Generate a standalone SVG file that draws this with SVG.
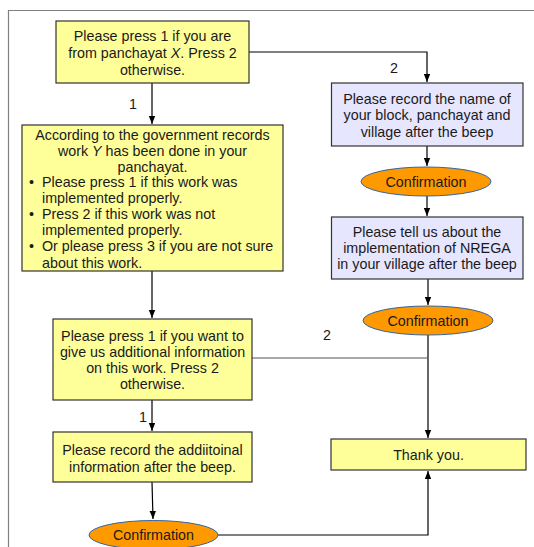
<svg xmlns="http://www.w3.org/2000/svg" width="534" height="547" viewBox="0 0 534 547">
<style>
text{font-family:"Liberation Sans",Arial,sans-serif;font-size:14.3px;fill:#1a1a1a}
.c{text-anchor:middle}
.y{fill:#ffff99;stroke:#333;stroke-width:1.2}
.l{fill:#e6e6ff;stroke:#333;stroke-width:1.2}
.e{fill:#ff9900;stroke:#3465a4;stroke-width:1}
.w{fill:none;stroke:#000;stroke-width:1.2}
</style>
<defs>
<marker id="a" viewBox="0 0 10 10" refX="10" refY="5" markerWidth="8" markerHeight="8" markerUnits="userSpaceOnUse" orient="auto">
<path d="M0,1 L10,5 L0,9 Z" fill="#000"/>
</marker>
</defs>
<rect width="534" height="547" fill="#fff"/>
<path d="M8.5,547 V10.5 H534" fill="none" stroke="#808080" stroke-width="1.2"/>
<g id="connectors">
<path class="w" d="M249,52 H427 V82" marker-end="url(#a)"/>
<path class="w" d="M152,83 V124" marker-end="url(#a)"/>
<path class="w" d="M427,146 V166" marker-end="url(#a)"/>
<path class="w" d="M427,196 V216" marker-end="url(#a)"/>
<path class="w" d="M428,279 V305" marker-end="url(#a)"/>
<path class="w" d="M428,335 V438" marker-end="url(#a)"/>
<path class="w" d="M152,271 V318" marker-end="url(#a)"/>
<path d="M252,358 H428" fill="none" stroke="#555" stroke-width="1.2"/>
<path class="w" d="M152,400 V431" marker-end="url(#a)"/>
<path class="w" d="M152,482 L153,519" marker-end="url(#a)"/>
<path class="w" d="M218,535 H428 V471" marker-end="url(#a)"/>
<text x="394" y="73" class="c">2</text>
<text x="133" y="109" class="c">1</text>
<text x="327" y="340" class="c">2</text>
<text x="143" y="422" class="c">1</text>
</g>
<g id="n1">
<rect class="y" x="56" y="21" width="193" height="62"/>
<text class="c" x="152.5" y="41">Please press 1 if you are</text>
<text class="c" x="152.5" y="58">from panchayat <tspan font-style="italic">X</tspan>. Press 2</text>
<text class="c" x="152.5" y="75">otherwise.</text>
</g>
<g id="n2">
<rect class="y" x="22" y="125" width="261" height="146"/>
<text class="c" x="152.5" y="140">According to the government records</text>
<text class="c" x="152.5" y="156">work <tspan font-style="italic">Y</tspan> has been done in your</text>
<text class="c" x="152.5" y="172">panchayat.</text>
<text x="29" y="187">•</text>
<text x="42" y="187">Please press 1 if this work was</text>
<text x="42" y="203">implemented properly.</text>
<text x="29" y="219">•</text>
<text x="42" y="219">Press 2 if this work was not</text>
<text x="42" y="235">implemented properly.</text>
<text x="29" y="251">•</text>
<text x="42" y="251">Or please press 3 if you are not sure</text>
<text x="42" y="267.5">about this work.</text>
</g>
<g id="n3">
<rect class="y" x="53" y="319" width="199" height="81"/>
<text class="c" x="152.5" y="341">Please press 1 if you want to</text>
<text class="c" x="152.5" y="356.5">give us additional information</text>
<text class="c" x="152.5" y="372.5">on this work. Press 2</text>
<text class="c" x="152.5" y="388.5">otherwise.</text>
</g>
<g id="n4">
<rect class="y" x="53" y="432" width="199" height="50"/>
<text class="c" x="152.5" y="455">Please record the addiitoinal</text>
<text class="c" x="152.5" y="471.5">information after the beep.</text>
</g>
<g id="n5">
<ellipse class="e" cx="153.5" cy="535" rx="64.5" ry="14.5"/>
<text class="c" x="153.5" y="540">Confirmation</text>
</g>
<g id="n6">
<rect class="l" x="331.5" y="83" width="191.5" height="63"/>
<text class="c" x="427" y="104">Please record the name of</text>
<text class="c" x="427" y="120">your block, panchayat and</text>
<text class="c" x="427" y="136.5">village after the beep</text>
</g>
<g id="n7">
<ellipse class="e" cx="426" cy="181.5" rx="65" ry="14.5"/>
<text class="c" x="426" y="186.5">Confirmation</text>
</g>
<g id="n8">
<rect class="l" x="331.5" y="217" width="191.5" height="62"/>
<text class="c" x="427" y="237">Please tell us about the</text>
<text class="c" x="427" y="253">implementation of NREGA</text>
<text class="c" x="427" y="269">in your village after the beep</text>
</g>
<g id="n9">
<ellipse class="e" cx="428" cy="320.5" rx="65" ry="14.5"/>
<text class="c" x="428" y="325.5">Confirmation</text>
</g>
<g id="n10">
<rect class="y" x="331" y="439" width="195" height="31"/>
<text class="c" x="428.5" y="460">Thank you.</text>
</g>
</svg>
